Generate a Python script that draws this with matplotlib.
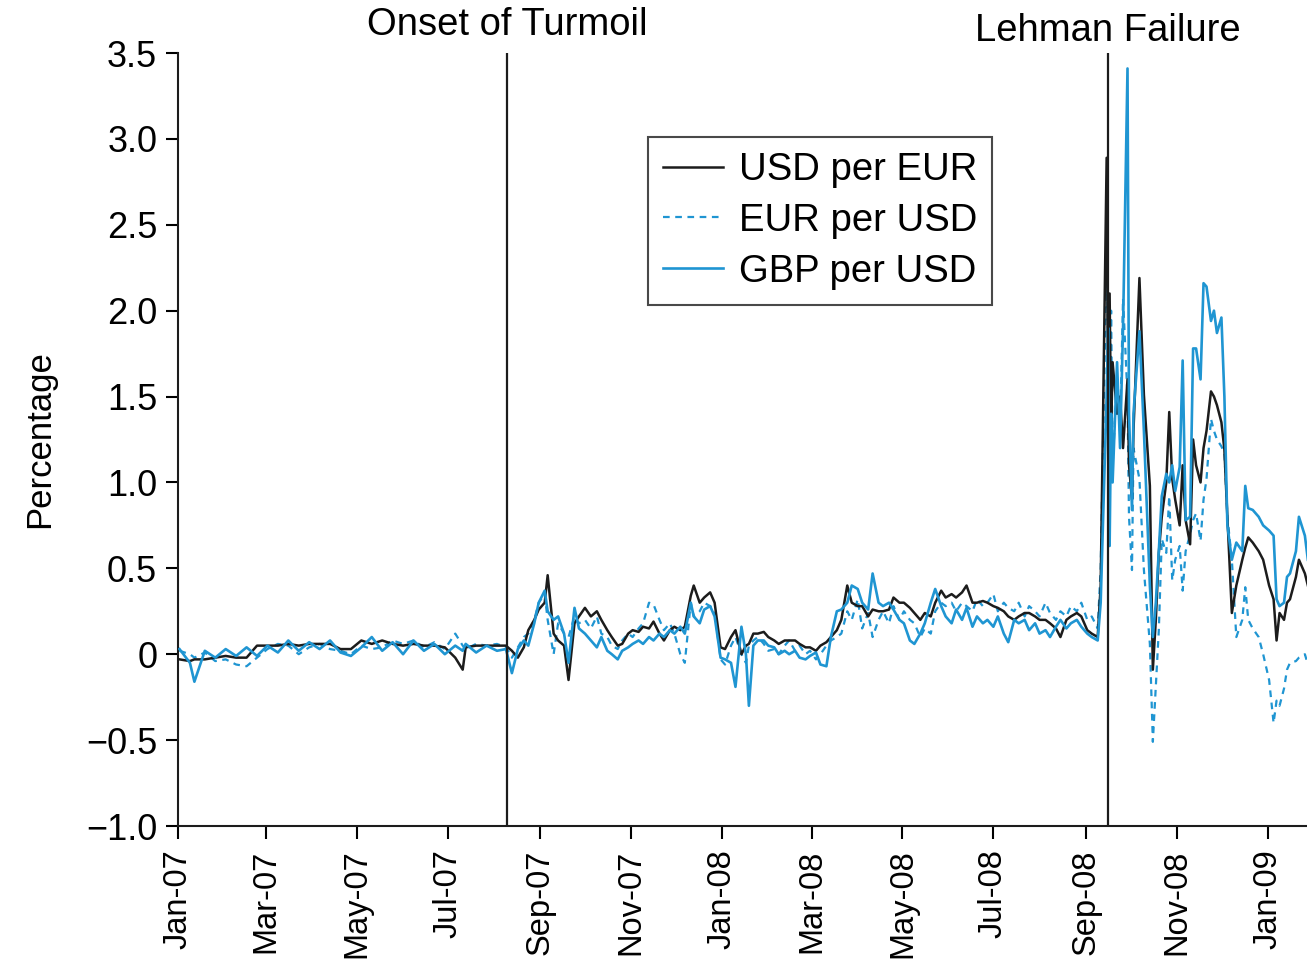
import matplotlib
matplotlib.use("Agg")
import matplotlib.pyplot as plt
import matplotlib.dates as mdates
from matplotlib.ticker import FuncFormatter
import pandas as pd

plt.rcParams['font.family'] = ['Liberation Sans', 'DejaVu Sans']

# dates of the readings (roughly weekly before the turmoil, denser afterwards)
dates = [
    '2007-01-02', '2007-01-09', '2007-01-12', '2007-01-19', '2007-01-26', '2007-02-02', '2007-02-09',
    '2007-02-16', '2007-02-23', '2007-03-02', '2007-03-09', '2007-03-16', '2007-03-23', '2007-03-30',
    '2007-04-06', '2007-04-13', '2007-04-20', '2007-04-27', '2007-05-04', '2007-05-11', '2007-05-18',
    '2007-05-25', '2007-06-01', '2007-06-08', '2007-06-15', '2007-06-22', '2007-06-29', '2007-07-06',
    '2007-07-11', '2007-07-13', '2007-07-20', '2007-07-27', '2007-08-03', '2007-08-09',
    '2007-08-13', '2007-08-17', '2007-08-21', '2007-08-24', '2007-08-28', '2007-08-31', '2007-09-04',
    '2007-09-06', '2007-09-10', '2007-09-13', '2007-09-17', '2007-09-20', '2007-09-24', '2007-09-27',
    '2007-10-01', '2007-10-05', '2007-10-09', '2007-10-12', '2007-10-16', '2007-10-19', '2007-10-23',
    '2007-10-26', '2007-10-30', '2007-11-02', '2007-11-06', '2007-11-09', '2007-11-13', '2007-11-16',
    '2007-11-20', '2007-11-23', '2007-11-27', '2007-11-30', '2007-12-04', '2007-12-07', '2007-12-11',
    '2007-12-13', '2007-12-17', '2007-12-20', '2007-12-24', '2007-12-27', '2007-12-31',
    '2008-01-03', '2008-01-07', '2008-01-10', '2008-01-14', '2008-01-17', '2008-01-19', '2008-01-22',
    '2008-01-25', '2008-01-29', '2008-02-01', '2008-02-05', '2008-02-08', '2008-02-12', '2008-02-15',
    '2008-02-19', '2008-02-22', '2008-02-26', '2008-02-29', '2008-03-04', '2008-03-07', '2008-03-11',
    '2008-03-14', '2008-03-18', '2008-03-21', '2008-03-25', '2008-03-28', '2008-04-01', '2008-04-04',
    '2008-04-08', '2008-04-11', '2008-04-15', '2008-04-18', '2008-04-22', '2008-04-25', '2008-04-29',
    '2008-05-02', '2008-05-06', '2008-05-09', '2008-05-13', '2008-05-16', '2008-05-20', '2008-05-23',
    '2008-05-27', '2008-05-30', '2008-06-03', '2008-06-06', '2008-06-10', '2008-06-13', '2008-06-17',
    '2008-06-20', '2008-06-24', '2008-06-27', '2008-07-01', '2008-07-04', '2008-07-08', '2008-07-11',
    '2008-07-15', '2008-07-18', '2008-07-22', '2008-07-25', '2008-07-29', '2008-08-01', '2008-08-05',
    '2008-08-08', '2008-08-12', '2008-08-15', '2008-08-19', '2008-08-22', '2008-08-26', '2008-08-29',
    '2008-09-02', '2008-09-05', '2008-09-09', '2008-09-11',
    '2008-09-15', '2008-09-16', '2008-09-17', '2008-09-18', '2008-09-19', '2008-09-22', '2008-09-24',
    '2008-09-26', '2008-09-29', '2008-09-30', '2008-10-02', '2008-10-03', '2008-10-07', '2008-10-10',
    '2008-10-14', '2008-10-16', '2008-10-18', '2008-10-20', '2008-10-22', '2008-10-25', '2008-10-27',
    '2008-10-29', '2008-10-31', '2008-11-03', '2008-11-05', '2008-11-07', '2008-11-10', '2008-11-12',
    '2008-11-14', '2008-11-17', '2008-11-19', '2008-11-21', '2008-11-24', '2008-11-26', '2008-11-28',
    '2008-12-01', '2008-12-03', '2008-12-05', '2008-12-08', '2008-12-11', '2008-12-15', '2008-12-17',
    '2008-12-19', '2008-12-22', '2008-12-26', '2008-12-29', '2009-01-02', '2009-01-05', '2009-01-07',
    '2009-01-09', '2009-01-12', '2009-01-14', '2009-01-16', '2009-01-20', '2009-01-22', '2009-01-26',
    '2009-01-28',
]

usd_per_eur = [
    -0.03, -0.04, -0.03, -0.03, -0.02, -0.01, -0.02, -0.02, 0.05, 0.05, 0.05, 0.06, 0.05, 0.06,
    0.06, 0.06, 0.03, 0.03, 0.08, 0.06, 0.08, 0.06, 0.05, 0.06, 0.05, 0.05, 0.04, -0.02,
    -0.09, 0.04, 0.05, 0.05, 0.05, 0.05,
    0.02, -0.02, 0.04, 0.14, 0.20, 0.26, 0.30, 0.46, 0.12, 0.08, 0.05, -0.15, 0.18, 0.22,
    0.27, 0.22, 0.25, 0.20, 0.14, 0.10, 0.05, 0.06, 0.12, 0.14, 0.13, 0.16, 0.15, 0.19,
    0.12, 0.08, 0.14, 0.16, 0.14, 0.16, 0.34, 0.40, 0.30, 0.33, 0.36, 0.30, 0.04,
    0.03, 0.10, 0.14, 0.00, 0.05, 0.06, 0.12, 0.12, 0.13, 0.10, 0.08, 0.06, 0.08, 0.08,
    0.08, 0.06, 0.04, 0.04, 0.02, 0.05, 0.07, 0.10, 0.14, 0.20, 0.40, 0.30, 0.28, 0.28,
    0.22, 0.26, 0.25, 0.25, 0.26, 0.33, 0.30, 0.30, 0.27, 0.24, 0.20, 0.24, 0.22, 0.30,
    0.37, 0.33, 0.35, 0.33, 0.36, 0.40, 0.30, 0.30, 0.31, 0.30, 0.28, 0.27, 0.25, 0.22,
    0.20, 0.22, 0.24, 0.24, 0.22, 0.20, 0.20, 0.18, 0.15, 0.10, 0.20, 0.22, 0.24, 0.22,
    0.14, 0.12, 0.10, 0.40,
    2.89, 1.40, 2.10, 1.30, 1.70, 1.40, 1.50, 1.20, 1.60, 1.10, 0.90, 1.30, 2.19, 1.51,
    0.98, -0.09, 0.20, 0.59, 0.80, 1.00, 1.41, 1.02, 0.90, 0.75, 1.10, 0.78, 0.64, 1.25,
    1.10, 1.00, 1.20, 1.30, 1.53, 1.50, 1.45, 1.35, 1.19, 0.80, 0.24, 0.40, 0.55, 0.62,
    0.68, 0.65, 0.60, 0.55, 0.40, 0.32, 0.08, 0.24, 0.20, 0.30, 0.32, 0.45, 0.55, 0.47,
    0.40,
]

eur_per_usd = [
    0.02, 0.00, -0.02, 0.01, -0.04, -0.03, -0.06, -0.07, -0.02, 0.03, 0.06, 0.05, 0.00, 0.04,
    0.06, 0.03, 0.02, 0.00, 0.05, 0.03, 0.04, 0.08, 0.06, 0.08, 0.04, 0.07, 0.03, 0.12,
    0.05, 0.03, 0.06, 0.05, 0.06, 0.04,
    -0.02, 0.04, 0.10, 0.12, 0.20, 0.30, 0.35, 0.20, 0.00, 0.18, 0.12, 0.10, 0.22, 0.18,
    0.20, 0.15, 0.22, 0.12, 0.10, 0.05, 0.03, 0.08, 0.12, 0.10, 0.15, 0.18, 0.30, 0.29,
    0.20, 0.14, 0.18, 0.12, 0.00, -0.05, 0.30, 0.22, 0.25, 0.30, 0.28, 0.25, -0.03,
    -0.06, 0.05, 0.10, 0.00, -0.05, 0.05, 0.08, 0.10, 0.06, 0.02, 0.03, 0.00, 0.05, 0.08,
    0.02, 0.05, 0.00, 0.02, -0.03, 0.00, 0.05, 0.08, 0.10, 0.12, 0.25, 0.20, 0.32, 0.15,
    0.24, 0.10, 0.20, 0.25, 0.18, 0.28, 0.20, 0.25, 0.20, 0.18, 0.10, 0.15, 0.12, 0.25,
    0.30, 0.28, 0.30, 0.25, 0.30, 0.28, 0.25, 0.32, 0.28, 0.30, 0.35, 0.25, 0.30, 0.27,
    0.25, 0.30, 0.22, 0.28, 0.25, 0.22, 0.30, 0.24, 0.20, 0.25, 0.22, 0.28, 0.25, 0.30,
    0.20, 0.22, 0.15, 0.50,
    2.34, 1.80, 1.20, 2.00, 1.10, 1.60, 1.30, 2.07, 1.50, 0.80, 0.49, 1.20, 1.02, 0.49,
    0.06, -0.51, -0.19, 0.14, 0.67, 0.59, 0.92, 0.43, 0.55, 0.63, 0.37, 0.60, 0.70, 0.78,
    0.82, 0.66, 0.90, 1.02, 1.37, 1.30, 1.25, 1.21, 1.17, 0.80, 0.55, 0.10, 0.20, 0.39,
    0.20, 0.15, 0.10, 0.00, -0.15, -0.40, -0.27, -0.30, -0.20, -0.09, -0.05, -0.04, -0.02, 0.00,
    -0.06,
]

gbp_per_usd = [
    0.03, -0.05, -0.16, 0.02, -0.02, 0.03, -0.01, 0.04, -0.01, 0.05, 0.01, 0.08, 0.02, 0.07,
    0.03, 0.08, 0.01, -0.01, 0.04, 0.10, 0.02, 0.07, 0.00, 0.08, 0.02, 0.06, 0.00, 0.05,
    0.02, 0.06, 0.01, 0.05, 0.02, 0.03,
    -0.11, 0.03, 0.08, 0.05, 0.18, 0.30, 0.37, 0.25, 0.20, 0.22, 0.12, -0.05, 0.27, 0.15,
    0.12, 0.08, 0.04, 0.10, 0.02, 0.00, -0.03, 0.02, 0.04, 0.06, 0.08, 0.06, 0.10, 0.08,
    0.12, 0.10, 0.14, 0.12, 0.16, 0.12, 0.30, 0.22, 0.18, 0.26, 0.28, 0.22, -0.02,
    -0.03, -0.05, -0.19, 0.16, 0.00, -0.30, 0.05, 0.08, 0.08, 0.05, 0.04, 0.00, 0.02, 0.00,
    0.02, -0.02, -0.03, -0.01, 0.01, -0.06, -0.07, 0.10, 0.25, 0.26, 0.30, 0.40, 0.38, 0.30,
    0.26, 0.47, 0.30, 0.28, 0.30, 0.26, 0.20, 0.18, 0.08, 0.06, 0.12, 0.18, 0.30, 0.38,
    0.28, 0.22, 0.18, 0.26, 0.20, 0.27, 0.16, 0.22, 0.18, 0.20, 0.16, 0.22, 0.12, 0.07,
    0.20, 0.18, 0.20, 0.14, 0.18, 0.12, 0.14, 0.10, 0.16, 0.20, 0.15, 0.18, 0.20, 0.16,
    0.12, 0.10, 0.08, 0.30,
    1.50, 1.90, 0.63, 1.40, 1.00, 1.70, 1.20, 1.90, 3.41, 1.40, 0.84, 1.40, 1.88, 1.30,
    0.40, 0.10, 0.30, 0.60, 0.92, 1.05, 1.00, 1.10, 0.95, 1.09, 1.71, 0.78, 0.80, 1.78,
    1.78, 1.60, 2.16, 2.14, 1.94, 2.00, 1.87, 1.96, 1.50, 0.75, 0.55, 0.65, 0.60, 0.98,
    0.85, 0.84, 0.80, 0.75, 0.72, 0.69, 0.32, 0.28, 0.30, 0.45, 0.47, 0.60, 0.80, 0.69,
    0.55,
]

yticks = [-1.0, -0.5, 0, 0.5, 1.0, 1.5, 2.0, 2.5, 3.0, 3.5]
events = [('2007-08-10', 'Onset of Turmoil', 13), ('2008-09-16', 'Lehman Failure', 8.5)]

x = pd.to_datetime(dates)
black = '#1c1c1c'
blue = '#1f95d2'
fs = 26
fs_big = 27.5

fig = plt.figure(figsize=(13.07, 9.6), dpi=100)
ax = fig.add_axes([178 / 1307, 1 - 826 / 960, 1 - 178 / 1307, (826 - 53) / 960])

ax.plot(x, usd_per_eur, color=black, lw=1.8, label='USD per EUR', zorder=3)
ax.plot(x, eur_per_usd, color=blue, lw=1.6, dashes=(3, 2.5), label='EUR per USD', zorder=2)
ax.plot(x, gbp_per_usd, color=blue, lw=1.9, label='GBP per USD', zorder=4)

# event lines with their labels just above the axes
for d, name, off in events:
    ax.axvline(pd.Timestamp(d), color=black, lw=1.6, zorder=5)
    ax.annotate(name, xy=(pd.Timestamp(d), 1.0), xycoords=('data', 'axes fraction'),
                xytext=(0, off), textcoords='offset points', ha='center', va='baseline',
                fontsize=fs_big, annotation_clip=False)

ax.set_xlim(pd.Timestamp('2007-01-01'), pd.Timestamp('2009-01-27 10:00'))
ax.set_ylim(-1.0, 3.5)

ax.xaxis.set_major_locator(mdates.MonthLocator(bymonth=[1, 3, 5, 7, 9, 11]))
ax.xaxis.set_major_formatter(mdates.DateFormatter('%b-%y'))
ax.set_yticks(yticks)
ax.yaxis.set_major_formatter(FuncFormatter(lambda v, p: '0' if v == 0 else f'{v:.1f}'.replace('-', '\u2212')))

ax.tick_params(axis='x', labelrotation=90, labelsize=23.5, length=9, width=1.5, pad=8)
ax.tick_params(axis='y', labelsize=fs, length=9, width=1.5, pad=6)

for s in ['top', 'right']:
    ax.spines[s].set_visible(False)
for s in ['left', 'bottom']:
    ax.spines[s].set_linewidth(1.5)
    ax.spines[s].set_color(black)

ax.set_ylabel('Percentage', fontsize=25)
ax.yaxis.set_label_coords(-0.108, 0.5)

leg = ax.legend(loc='upper left', bbox_to_anchor=((648 - 178) / 1129, (826 - 137) / 773),
                fontsize=fs_big, frameon=True, fancybox=False, handlelength=1.57,
                handletextpad=0.42, labelspacing=0.39, borderpad=0.39, borderaxespad=0)
leg.get_frame().set_edgecolor(black)
leg.get_frame().set_linewidth(1.5)

fig.savefig('out.png', dpi=100)
